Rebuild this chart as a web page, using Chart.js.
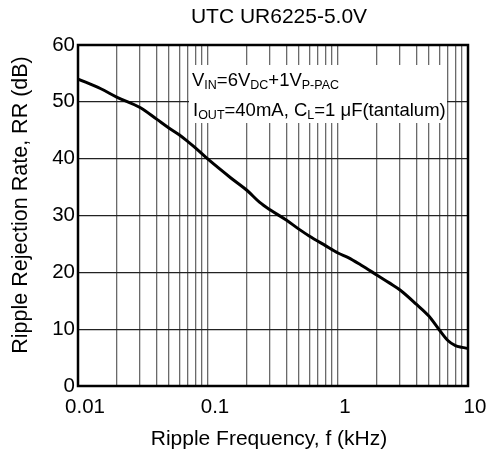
<!DOCTYPE html>
<html><head><meta charset="utf-8">
<script src="https://cdn.jsdelivr.net/npm/chart.js@4.4.1/dist/chart.umd.min.js"></script>
<style>html,body{margin:0;padding:0;background:#fff}</style>
</head><body>
<div style="width:489px;height:454px"><canvas id="c" width="489" height="454"></canvas></div>
<script>
const chartTitle = 'UTC UR6225-5.0V';
const xAxisTitle = 'Ripple Frequency, f (kHz)';
const yAxisTitle = 'Ripple Rejection Rate, RR (dB)';
const frequencies = [0.01, 0.015, 0.02, 0.03, 0.04, 0.05, 0.06, 0.07, 0.08, 0.1, 0.15, 0.2, 0.25, 0.3, 0.4, 0.5, 0.6, 0.8, 1, 1.2, 1.5, 2, 2.5, 3, 4, 5, 6, 7, 8, 9, 10];
const rejection   = [54, 52.3, 50.8, 49, 47, 45.4, 44.2, 43, 41.9, 39.9, 36.6, 34.4, 32.3, 31, 29.2, 27.6, 26.4, 24.7, 23.4, 22.6, 21.3, 19.5, 18.1, 16.9, 14.4, 12.3, 9.9, 8.0, 7.1, 6.8, 6.6];
const xGridValues = [0.01,0.02,0.03,0.04,0.05,0.06,0.07,0.08,0.09,0.1,0.2,0.3,0.4,0.5,0.6,0.7,0.8,0.9,1,2,3,4,5,6,7,8,9,10];
const xTickValues = [0.01, 0.1, 1, 10];
const xTickLabels = ['0.01', '0.1', '1', '10'];
const yTickValues = [0, 10, 20, 30, 40, 50, 60];
const noteLine1 = [['V',0],['IN',1],['=6V',0],['DC',1],['+1V',0],['P-PAC',1]];
const noteLine2 = [['I',0],['OUT',1],['=40mA, C',0],['L',1],['=1 \u03bcF(tantalum)',0]];

const FONT = '"Liberation Sans", Arial, sans-serif';

function drawRich(ctx, x, y, parts, size, subSize) {
  ctx.textAlign = 'left';
  ctx.textBaseline = 'alphabetic';
  for (const [t, sub] of parts) {
    ctx.font = (sub ? subSize : size) + 'px ' + FONT;
    ctx.fillText(t, x, sub ? y + 3 : y);
    x += ctx.measureText(t).width;
  }
}

const decorPlugin = {
  id: 'decor',
  beforeDatasetsDraw(chart) {
    const ctx = chart.ctx, a = chart.chartArea;
    ctx.save();
    // plot frame
    ctx.strokeStyle = '#000';
    ctx.lineWidth = 2.5;
    ctx.strokeRect(a.left, a.top, a.right - a.left, a.bottom - a.top);
    // annotation box
    ctx.fillStyle = '#fff';
    ctx.fillRect(189, 65, 258, 58);
    ctx.fillStyle = '#000';
    drawRich(ctx, 192, 86, noteLine1, 18.5, 12.5);
    drawRich(ctx, 193, 116, noteLine2, 18.5, 12.5);
    ctx.restore();
  },
  afterDraw(chart) {
    const ctx = chart.ctx;
    ctx.save();
    ctx.fillStyle = '#000';
    ctx.textBaseline = 'alphabetic';
    ctx.textAlign = 'center';
    ctx.font = '21px ' + FONT;
    ctx.fillText(chartTitle, 279, 23);
    ctx.fillText(xAxisTitle, 269, 445);
    ctx.translate(27, 205);
    ctx.rotate(-Math.PI / 2);
    ctx.font = '21.5px ' + FONT;
    ctx.fillText(yAxisTitle, 0, 0);
    ctx.restore();
  }
};

new Chart(document.getElementById('c'), {
  type: 'line',
  data: {
    datasets: [{
      data: frequencies.map((f, i) => ({x: f, y: rejection[i]})),
      borderColor: '#000',
      borderWidth: 3,
      pointRadius: 0,
      fill: false,
      cubicInterpolationMode: 'monotone'
    }]
  },
  options: {
    responsive: false,
    animation: false,
    devicePixelRatio: 1,
    layout: {padding: {top: 45, right: 21, left: 0, bottom: 0}},
    plugins: {legend: {display: false}, tooltip: {enabled: false}, title: {display: false}},
    scales: {
      x: {
        type: 'logarithmic',
        min: 0.01, max: 10,
        afterBuildTicks: s => { s.ticks = xGridValues.map(v => ({value: v})); },
        afterFit: s => { s.height = 68; s.paddingLeft = 0; s.paddingRight = 0; },
        ticks: {
          autoSkip: false, maxRotation: 0, minRotation: 0,
          color: '#000', padding: 9, labelOffset: 7,
          font: {family: FONT, size: 20.5},
          callback: v => {
            const i = xTickValues.findIndex(t => Math.abs(t - v) < t * 1e-6);
            return i >= 0 ? xTickLabels[i] : '';
          }
        },
        grid: {color: '#6a6a6a', lineWidth: 1.3, drawTicks: false},
        border: {display: false}
      },
      y: {
        type: 'linear',
        min: 0, max: 60,
        afterBuildTicks: s => { s.ticks = yTickValues.map(v => ({value: v})); },
        afterFit: s => { s.width = 78; s.paddingTop = 0; s.paddingBottom = 0; },
        ticks: {color: '#000', padding: 3, font: {family: FONT, size: 20.5}},
        grid: {color: '#222', lineWidth: 1.3, drawTicks: false},
        border: {display: false}
      }
    }
  },
  plugins: [decorPlugin]
});
</script>
</body></html>
